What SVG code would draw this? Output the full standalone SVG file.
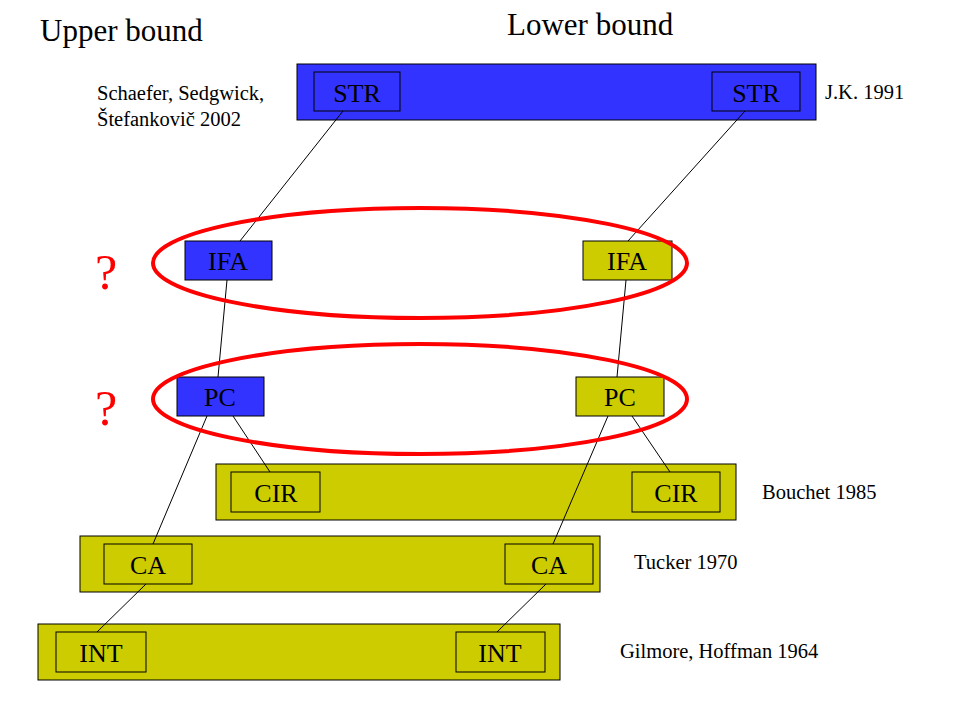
<svg xmlns="http://www.w3.org/2000/svg" width="960" height="720" viewBox="0 0 960 720">
<style>
.band{stroke:#000;stroke-width:1}
.blue{fill:#3333ff}
.yel{fill:#cccc00}
.box{stroke:#000;stroke-width:1}
.lbl{font-family:"Liberation Serif",serif;font-size:26px;fill:#000;text-anchor:middle}
.note{font-family:"Liberation Serif",serif;font-size:20.5px;fill:#000}
.title{font-family:"Liberation Serif",serif;font-size:31px;fill:#000}
.q{font-family:"Liberation Serif",serif;font-size:50px;fill:#ff0000}
.ell{fill:none;stroke:#ff0000;stroke-width:4}
.conn line{stroke:#000;stroke-width:1}
</style>
<rect width="960" height="720" fill="#fff"/>
<text class="title" x="40" y="41">Upper bound</text>
<text class="title" x="507" y="35">Lower bound</text>
<text class="note" x="97" y="100">Schaefer, Sedgwick,</text>
<text class="note" x="97" y="126">Štefankovič 2002</text>
<text class="note" x="825" y="99">J.K. 1991</text>
<text class="note" x="762" y="499">Bouchet 1985</text>
<text class="note" x="634" y="569">Tucker 1970</text>
<text class="note" x="620" y="658">Gilmore, Hoffman 1964</text>
<text class="q" x="95" y="289">?</text>
<text class="q" x="95" y="425">?</text>
<g id="band-str"><rect class="band blue" x="297" y="64" width="519" height="56"/></g>
<g id="band-cir"><rect class="band yel" x="216" y="464" width="520" height="56"/></g>
<g id="band-ca"><rect class="band yel" x="80" y="536" width="520" height="56"/></g>
<g id="band-int"><rect class="band yel" x="38" y="624" width="522" height="56"/></g>
<g class="conn" id="connectors">
<line x1="343" y1="111" x2="240" y2="241"/>
<line x1="745" y1="111" x2="628" y2="241"/>
<line x1="227" y1="280" x2="218" y2="377"/>
<line x1="626" y1="280" x2="617" y2="377"/>
<line x1="207" y1="416" x2="153" y2="544"/>
<line x1="233" y1="416" x2="270" y2="472"/>
<line x1="608" y1="416" x2="553" y2="544"/>
<line x1="632" y1="416" x2="670" y2="472"/>
<line x1="146" y1="584" x2="97" y2="632"/>
<line x1="546" y1="584" x2="497" y2="632"/>
</g>
<g id="str-l"><rect class="box blue" x="314" y="72" width="86" height="39"/><text class="lbl" x="357" y="102">STR</text></g>
<g id="str-r"><rect class="box blue" x="712" y="72" width="88" height="39"/><text class="lbl" x="756" y="102">STR</text></g>
<g id="ifa-l"><rect class="box blue" x="185" y="241" width="87" height="39"/><text class="lbl" x="228" y="270">IFA</text></g>
<g id="ifa-r"><rect class="box yel" x="583" y="241" width="89" height="39"/><text class="lbl" x="627" y="270">IFA</text></g>
<g id="pc-l"><rect class="box blue" x="177" y="377" width="87" height="39"/><text class="lbl" x="220" y="406">PC</text></g>
<g id="pc-r"><rect class="box yel" x="576" y="377" width="88" height="39"/><text class="lbl" x="620" y="406">PC</text></g>
<g id="cir-l"><rect class="box yel" x="231" y="472" width="89" height="40"/><text class="lbl" x="276" y="502">CIR</text></g>
<g id="cir-r"><rect class="box yel" x="632" y="472" width="88" height="40"/><text class="lbl" x="676" y="502">CIR</text></g>
<g id="ca-l"><rect class="box yel" x="104" y="544" width="88" height="40"/><text class="lbl" x="148" y="574">CA</text></g>
<g id="ca-r"><rect class="box yel" x="505" y="544" width="88" height="40"/><text class="lbl" x="549" y="574">CA</text></g>
<g id="int-l"><rect class="box yel" x="56" y="632" width="90" height="40"/><text class="lbl" x="101" y="662">INT</text></g>
<g id="int-r"><rect class="box yel" x="456" y="632" width="89" height="40"/><text class="lbl" x="500" y="662">INT</text></g>
<g id="ellipses">
<ellipse class="ell" cx="420" cy="263" rx="267" ry="55"/>
<ellipse class="ell" cx="420" cy="399" rx="267" ry="55"/>
</g>
</svg>
